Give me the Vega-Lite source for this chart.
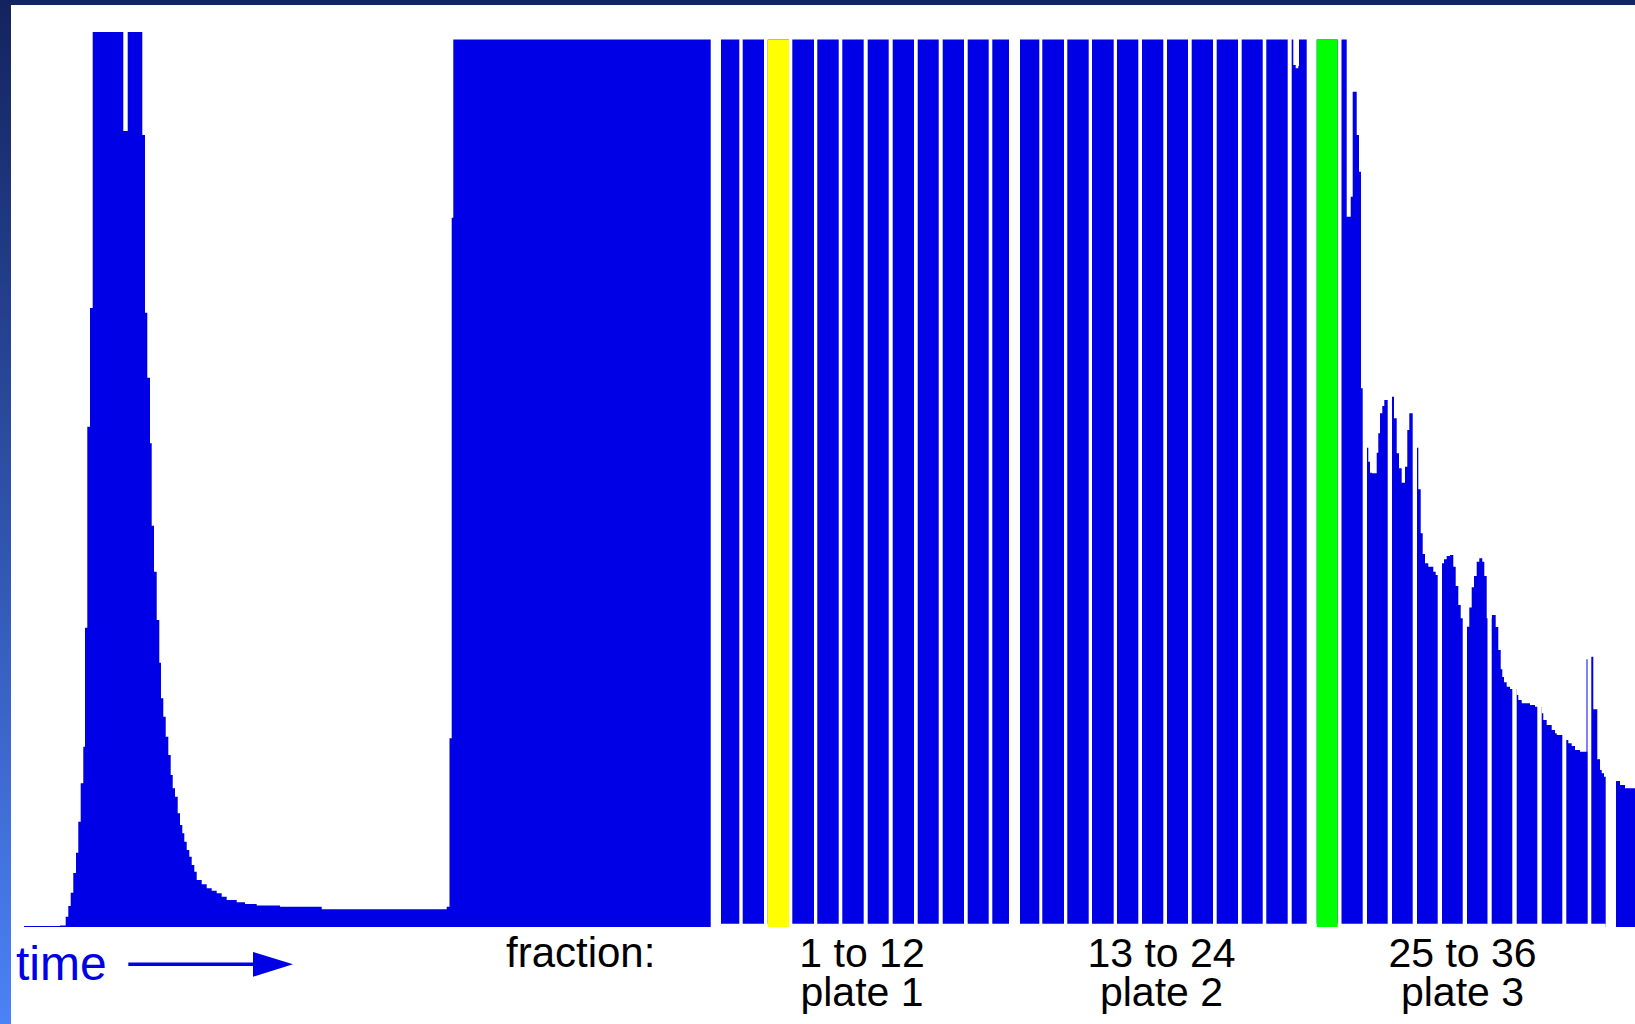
{
  "$schema": "https://vega.github.io/schema/vega-lite/v6.json",
  "width": 1611,
  "height": 895,
  "autosize": {"type": "none"},
  "padding": {"left": 24, "top": 32, "right": 0, "bottom": 97},
  "background": "white",
  "config": {"view": {"stroke": null}, "font": "Liberation Sans"},
  "datasets": {
    "signal": [
      {"t": 0, "v": 2}, {"t": 3.6, "v": 3}, {"t": 4.17, "v": 20.6}, {"t": 4.43, "v": 42}, {"t": 4.67, "v": 68.6},
      {"t": 4.93, "v": 108}, {"t": 5.2, "v": 148.6}, {"t": 5.43, "v": 210.6}, {"t": 5.67, "v": 287.4}, {"t": 5.93, "v": 360.6},
      {"t": 6.1, "v": 598.6}, {"t": 6.33, "v": 1000.6}, {"t": 6.6, "v": 1238}, {"t": 6.87, "v": 1790}, {"t": 9.93, "v": 1592},
      {"t": 10.37, "v": 1790}, {"t": 11.83, "v": 1584}, {"t": 12.1, "v": 1228.6}, {"t": 12.33, "v": 1098.6}, {"t": 12.6, "v": 967.4},
      {"t": 12.77, "v": 802.6}, {"t": 13.0, "v": 710.6}, {"t": 13.27, "v": 614}, {"t": 13.53, "v": 528.6}, {"t": 13.7, "v": 457.4},
      {"t": 13.93, "v": 420.6}, {"t": 14.17, "v": 380.6}, {"t": 14.43, "v": 344}, {"t": 14.67, "v": 304}, {"t": 14.87, "v": 277.4},
      {"t": 15.1, "v": 260.6}, {"t": 15.37, "v": 227.4}, {"t": 15.6, "v": 204}, {"t": 15.83, "v": 187.4}, {"t": 16.03, "v": 170.6},
      {"t": 16.27, "v": 154}, {"t": 16.53, "v": 140.6}, {"t": 16.77, "v": 124}, {"t": 17.03, "v": 110.6}, {"t": 17.27, "v": 94},
      {"t": 17.77, "v": 85.4}, {"t": 18.27, "v": 77.4}, {"t": 18.77, "v": 72.6}, {"t": 19.27, "v": 67.4}, {"t": 19.77, "v": 60.6},
      {"t": 20.27, "v": 54}, {"t": 21.27, "v": 49.4}, {"t": 22.1, "v": 46}, {"t": 23.27, "v": 43}, {"t": 25.6, "v": 40.6},
      {"t": 29.77, "v": 35.4}, {"t": 42.27, "v": 40.6}, {"t": 42.55, "v": 377.4}, {"t": 42.77, "v": 1418.6}, {"t": 42.93, "v": 1775},
      {"t": 126.93, "v": 1724}, {"t": 127.17, "v": 1717.4}, {"t": 127.43, "v": 1722}, {"t": 127.5, "v": 1775},
      {"t": 132.27, "v": 1420.6}, {"t": 132.67, "v": 1460.6}, {"t": 132.87, "v": 1670.6}, {"t": 133.27, "v": 1584}, {"t": 133.5, "v": 1510.6},
      {"t": 133.7, "v": 1077.4}, {"t": 134.3, "v": 958.6}, {"t": 134.43, "v": 930.6}, {"t": 134.6, "v": 908.6}, {"t": 134.77, "v": 907.4},
      {"t": 135.27, "v": 948.6}, {"t": 135.43, "v": 987.4}, {"t": 135.6, "v": 1027.4}, {"t": 135.83, "v": 1042}, {"t": 136.03, "v": 1054},
      {"t": 136.8, "v": 1060.6}, {"t": 137.0, "v": 1017.4}, {"t": 137.27, "v": 947.4}, {"t": 137.5, "v": 917.4}, {"t": 137.77, "v": 888.6},
      {"t": 138.1, "v": 920.6}, {"t": 138.33, "v": 994}, {"t": 138.53, "v": 1027.4}, {"t": 139.3, "v": 958.6}, {"t": 139.43, "v": 875.4},
      {"t": 139.67, "v": 787.4}, {"t": 139.87, "v": 746}, {"t": 140.1, "v": 727.4}, {"t": 140.43, "v": 720.6}, {"t": 140.93, "v": 710.6},
      {"t": 141.17, "v": 704}, {"t": 141.8, "v": 727.4}, {"t": 142.0, "v": 735.4}, {"t": 142.27, "v": 742}, {"t": 142.6, "v": 744},
      {"t": 142.93, "v": 720.6}, {"t": 143.17, "v": 682}, {"t": 143.43, "v": 644}, {"t": 143.67, "v": 617.4}, {"t": 144.27, "v": 600.6},
      {"t": 144.53, "v": 639}, {"t": 144.77, "v": 679.4}, {"t": 145.0, "v": 702}, {"t": 145.27, "v": 730.6}, {"t": 145.53, "v": 737.4},
      {"t": 145.83, "v": 730.6}, {"t": 146.03, "v": 702}, {"t": 146.27, "v": 617.4}, {"t": 146.77, "v": 624}, {"t": 147.17, "v": 600},
      {"t": 147.43, "v": 554}, {"t": 147.67, "v": 515.6}, {"t": 147.83, "v": 500}, {"t": 148.0, "v": 489.6}, {"t": 148.27, "v": 480.6},
      {"t": 148.6, "v": 476}, {"t": 149.27, "v": 464}, {"t": 149.43, "v": 454}, {"t": 149.77, "v": 447.4}, {"t": 150.6, "v": 444},
      {"t": 151.1, "v": 440.6}, {"t": 151.77, "v": 427.4}, {"t": 151.93, "v": 414}, {"t": 152.27, "v": 404}, {"t": 152.77, "v": 394},
      {"t": 153.1, "v": 387.4}, {"t": 153.27, "v": 384}, {"t": 154.2, "v": 374}, {"t": 154.43, "v": 367.4}, {"t": 154.77, "v": 362},
      {"t": 155.1, "v": 354}, {"t": 155.6, "v": 350.6}, {"t": 156.25, "v": 535.4}, {"t": 156.37, "v": 350.6}, {"t": 156.7, "v": 540.6},
      {"t": 156.93, "v": 435.4}, {"t": 157.33, "v": 335.4}, {"t": 157.6, "v": 314}, {"t": 157.77, "v": 307.4}, {"t": 158.0, "v": 300.6},
      {"t": 159.2, "v": 292}, {"t": 159.6, "v": 284}, {"t": 160.1, "v": 277.4}, {"t": 161.1, "v": 277.4}
    ],
    "gaps": [
      {"start": 68.67, "end": 69.7}, {"start": 71.53, "end": 71.87}, {"start": 74.0, "end": 74.37}, {"start": 76.5, "end": 76.83},
      {"start": 79.0, "end": 79.33}, {"start": 81.47, "end": 81.83}, {"start": 83.97, "end": 84.37}, {"start": 86.47, "end": 86.87},
      {"start": 89.0, "end": 89.37}, {"start": 91.47, "end": 91.87}, {"start": 94.0, "end": 94.37}, {"start": 96.47, "end": 96.83},
      {"start": 98.5, "end": 99.6}, {"start": 101.53, "end": 101.83}, {"start": 104.0, "end": 104.33}, {"start": 106.47, "end": 106.8},
      {"start": 108.97, "end": 109.3}, {"start": 111.43, "end": 111.8}, {"start": 113.93, "end": 114.3}, {"start": 116.4, "end": 116.77},
      {"start": 118.9, "end": 119.27}, {"start": 121.4, "end": 121.77}, {"start": 123.87, "end": 124.23}, {"start": 126.37, "end": 126.77},
      {"start": 128.27, "end": 129.27}, {"start": 131.37, "end": 131.75}, {"start": 133.87, "end": 134.3}, {"start": 136.37, "end": 136.8},
      {"start": 138.87, "end": 139.3}, {"start": 141.37, "end": 141.8}, {"start": 143.87, "end": 144.3}, {"start": 146.35, "end": 146.77},
      {"start": 148.83, "end": 149.27}, {"start": 151.33, "end": 151.77}, {"start": 153.83, "end": 154.23}, {"start": 156.37, "end": 156.73},
      {"start": 158.17, "end": 159.2}
    ],
    "highlights": [
      {"fraction": 3, "start": 74.37, "end": 76.5, "marker": "yellow"},
      {"fraction": 25, "start": 129.27, "end": 131.37, "marker": "green"}
    ],
    "plates": [
      {"label": "1 to 12\nplate 1", "t": 83.8},
      {"label": "13 to 24\nplate 2", "t": 113.75},
      {"label": "25 to 36\nplate 3", "t": 143.85}
    ]
  },
  "layer": [
    {
      "data": {"values": [{}]},
      "mark": {"type": "rect", "color": "#14265f", "opacity": 1},
      "encoding": {
        "x": {"datum": -2.4, "type": "quantitative", "scale": {"domain": [0, 161.1], "nice": false, "zero": false}, "axis": null},
        "x2": {"datum": 161.1},
        "y": {"datum": 1854, "type": "quantitative", "scale": {"domain": [0, 1790], "nice": false, "zero": false}, "axis": null},
        "y2": {"datum": 1844}
      }
    },
    {
      "data": {"values": [{}]},
      "mark": {
        "type": "rect", "opacity": 1,
        "color": {"gradient": "linear", "x1": 0, "y1": 0, "x2": 0, "y2": 1,
          "stops": [{"offset": 0, "color": "#13235f"}, {"offset": 1, "color": "#4b82f6"}]}
      },
      "encoding": {
        "x": {"datum": -2.4, "type": "quantitative", "scale": {"domain": [0, 161.1], "nice": false, "zero": false}, "axis": null},
        "x2": {"datum": -1.3},
        "y": {"datum": 1854, "type": "quantitative", "scale": {"domain": [0, 1790], "nice": false, "zero": false}, "axis": null},
        "y2": {"datum": -194}
      }
    },
    {
      "data": {"name": "signal"},
      "mark": {"type": "area", "interpolate": "step-after", "color": "#0000e6", "opacity": 1, "clip": true},
      "encoding": {
        "x": {"field": "t", "type": "quantitative", "scale": {"domain": [0, 161.1], "nice": false, "zero": false}, "axis": null},
        "y": {"field": "v", "type": "quantitative", "scale": {"domain": [0, 1790], "nice": false, "zero": false}, "axis": null}
      }
    },
    {
      "data": {"name": "gaps"},
      "mark": {"type": "rect", "color": "white", "opacity": 1},
      "encoding": {
        "x": {"field": "start", "type": "quantitative", "scale": {"domain": [0, 161.1], "nice": false, "zero": false}, "axis": null},
        "x2": {"field": "end"},
        "y": {"datum": 0, "type": "quantitative", "scale": {"domain": [0, 1790], "nice": false, "zero": false}, "axis": null},
        "y2": {"datum": 1790}
      }
    },
    {
      "data": {"values": [{}]},
      "mark": {"type": "rect", "color": "white", "opacity": 1},
      "encoding": {
        "x": {"datum": 69.7, "type": "quantitative", "scale": {"domain": [0, 161.1], "nice": false, "zero": false}, "axis": null},
        "x2": {"datum": 158.17},
        "y": {"datum": 0, "type": "quantitative", "scale": {"domain": [0, 1790], "nice": false, "zero": false}, "axis": null},
        "y2": {"datum": 6.5}
      }
    },
    {
      "data": {"name": "highlights"},
      "mark": {"type": "rect", "opacity": 1},
      "encoding": {
        "x": {"field": "start", "type": "quantitative", "scale": {"domain": [0, 161.1], "nice": false, "zero": false}, "axis": null},
        "x2": {"field": "end"},
        "y": {"datum": 0, "type": "quantitative", "scale": {"domain": [0, 1790], "nice": false, "zero": false}, "axis": null},
        "y2": {"datum": 1775},
        "color": {"field": "marker", "type": "nominal", "scale": {"domain": ["yellow", "green"], "range": ["#ffff00", "#00ff00"]}, "legend": null}
      }
    },
    {
      "data": {"name": "plates"},
      "mark": {"type": "text", "align": "center", "baseline": "alphabetic", "fontSize": 41, "font": "Liberation Sans", "color": "black", "lineBreak": "\n", "lineHeight": 39},
      "encoding": {
        "x": {"field": "t", "type": "quantitative", "scale": {"domain": [0, 161.1], "nice": false, "zero": false}, "axis": null},
        "y": {"datum": -79, "type": "quantitative", "scale": {"domain": [0, 1790], "nice": false, "zero": false}, "axis": null},
        "text": {"field": "label"}
      }
    },
    {
      "data": {"values": [{}]},
      "mark": {"type": "text", "align": "left", "baseline": "alphabetic", "fontSize": 42, "font": "Liberation Sans", "color": "black", "text": "fraction:"},
      "encoding": {
        "x": {"datum": 48.2, "type": "quantitative", "scale": {"domain": [0, 161.1], "nice": false, "zero": false}, "axis": null},
        "y": {"datum": -79, "type": "quantitative", "scale": {"domain": [0, 1790], "nice": false, "zero": false}, "axis": null}
      }
    },
    {
      "data": {"values": [{}]},
      "mark": {"type": "text", "align": "left", "baseline": "alphabetic", "fontSize": 48, "font": "Liberation Sans", "color": "#0000e6", "text": "time"},
      "encoding": {
        "x": {"datum": -0.8, "type": "quantitative", "scale": {"domain": [0, 161.1], "nice": false, "zero": false}, "axis": null},
        "y": {"datum": -106, "type": "quantitative", "scale": {"domain": [0, 1790], "nice": false, "zero": false}, "axis": null}
      }
    },
    {
      "data": {"values": [{}]},
      "mark": {"type": "rule", "color": "#0000e6", "strokeWidth": 3.5, "opacity": 1},
      "encoding": {
        "x": {"datum": 10.43, "type": "quantitative", "scale": {"domain": [0, 161.1], "nice": false, "zero": false}, "axis": null},
        "x2": {"datum": 24},
        "y": {"datum": -74.6, "type": "quantitative", "scale": {"domain": [0, 1790], "nice": false, "zero": false}, "axis": null}
      }
    },
    {
      "data": {"values": [{}]},
      "mark": {"type": "point", "shape": "M-1,-0.62L1,0L-1,0.62Z", "size": 1600, "filled": true, "color": "#0000e6", "opacity": 1, "strokeWidth": 0},
      "encoding": {
        "x": {"datum": 24.9, "type": "quantitative", "scale": {"domain": [0, 161.1], "nice": false, "zero": false}, "axis": null},
        "y": {"datum": -74.6, "type": "quantitative", "scale": {"domain": [0, 1790], "nice": false, "zero": false}, "axis": null}
      }
    }
  ]
}
